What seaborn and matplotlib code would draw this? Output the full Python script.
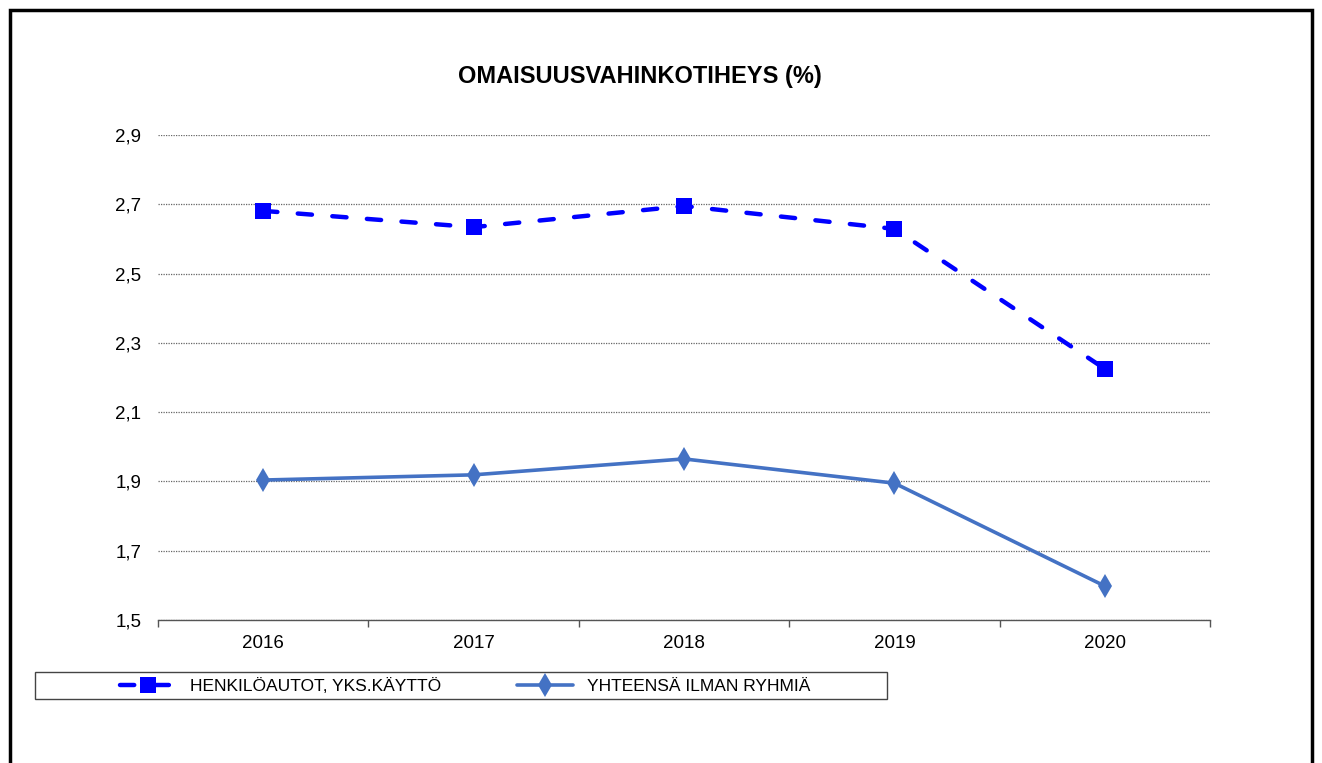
import numpy as np
import pandas as pd
import matplotlib
matplotlib.use("Agg")
import matplotlib.pyplot as plt
from matplotlib.patches import Rectangle
from matplotlib.ticker import FixedLocator, FuncFormatter
import seaborn as sns

years = ["2016", "2017", "2018", "2019", "2020"]
henkiloautot = [2.681, 2.634, 2.695, 2.629, 2.225]
yhteensa = [1.904, 1.919, 1.965, 1.895, 1.598]
labels = ["HENKILÖAUTOT, YKS.KÄYTTÖ", "YHTEENSÄ ILMAN RYHMIÄ"]
title = "OMAISUUSVAHINKOTIHEYS (%)"

sns.set_style("white")
plt.rcParams["font.family"] = ["Liberation Sans", "DejaVu Sans"]
plt.rcParams["text.color"] = "black"
plt.rcParams["xtick.color"] = "black"
plt.rcParams["ytick.color"] = "black"

df = pd.DataFrame({"vuosi": years, labels[0]: henkiloautot, labels[1]: yhteensa})

fig = plt.figure(figsize=(13.22, 7.63), dpi=100)
ax = fig.add_axes([158 / 1322, 1 - 620 / 763, 1052 / 1322, 485 / 763])

sns.lineplot(data=df, x="vuosi", y=labels[0], ax=ax, color="#0000FF", lw=3.2,
             marker="s", markersize=11, markeredgewidth=0, label=labels[0])
ax.lines[-1].set_dashes((3.2, 4.6))
ax.lines[-1].set_dash_capstyle("round")
sns.lineplot(data=df, x="vuosi", y=labels[1], ax=ax, color="#4472C4", lw=2.6,
             marker="d", markersize=12, markeredgewidth=0, label=labels[1])

ax.set_xlim(-0.5, 4.5)
ax.set_ylim(1.5, 2.9)
ax.set_yticks(np.arange(1.5, 2.95, 0.2))
ax.yaxis.set_major_formatter(FuncFormatter(lambda v, p: f"{v:.1f}".replace(".", ",")))
ax.xaxis.set_minor_locator(FixedLocator(np.arange(-0.5, 4.6, 1)))
ax.tick_params(axis="x", which="major", bottom=False, length=0, pad=11, labelsize=13.5)
ax.tick_params(axis="x", which="minor", bottom=True, length=5, width=1, color="#555555", direction="out")
ax.tick_params(axis="y", left=False, length=0, pad=12, labelsize=13.5)
ax.yaxis.grid(True, linestyle=(0, (1, 1)), color="#666666", lw=0.9)
ax.set_axisbelow(True)
for s in ["top", "right", "left"]:
    ax.spines[s].set_visible(False)
ax.spines["bottom"].set_color("#555555")
ax.spines["bottom"].set_linewidth(1)
ax.set_xlabel("")
ax.set_ylabel("")

fig.text(640 / 1322, 1 - 77 / 763, title, ha="center", va="center", fontsize=17, fontweight="bold")

ax.get_legend().remove()
handles, lbls = ax.get_legend_handles_labels()
fig.legend(handles, lbls, loc="center", bbox_to_anchor=(465 / 1322, 1 - 686 / 763),
           ncol=2, frameon=False, fontsize=12.5, handlelength=3.2,
           handletextpad=0.8, columnspacing=4.4)
fig.patches.append(Rectangle((35 / 1322, 1 - 699 / 763), 852 / 1322, 27 / 763,
                             transform=fig.transFigure, fill=False, ec="#444444", lw=1))
fig.patches.append(Rectangle((10 / 1322, -0.05), 1302 / 1322, 1.05 - 10 / 763,
                             transform=fig.transFigure, fill=False, ec="black", lw=2.5))

fig.savefig("out.png", dpi=100)
